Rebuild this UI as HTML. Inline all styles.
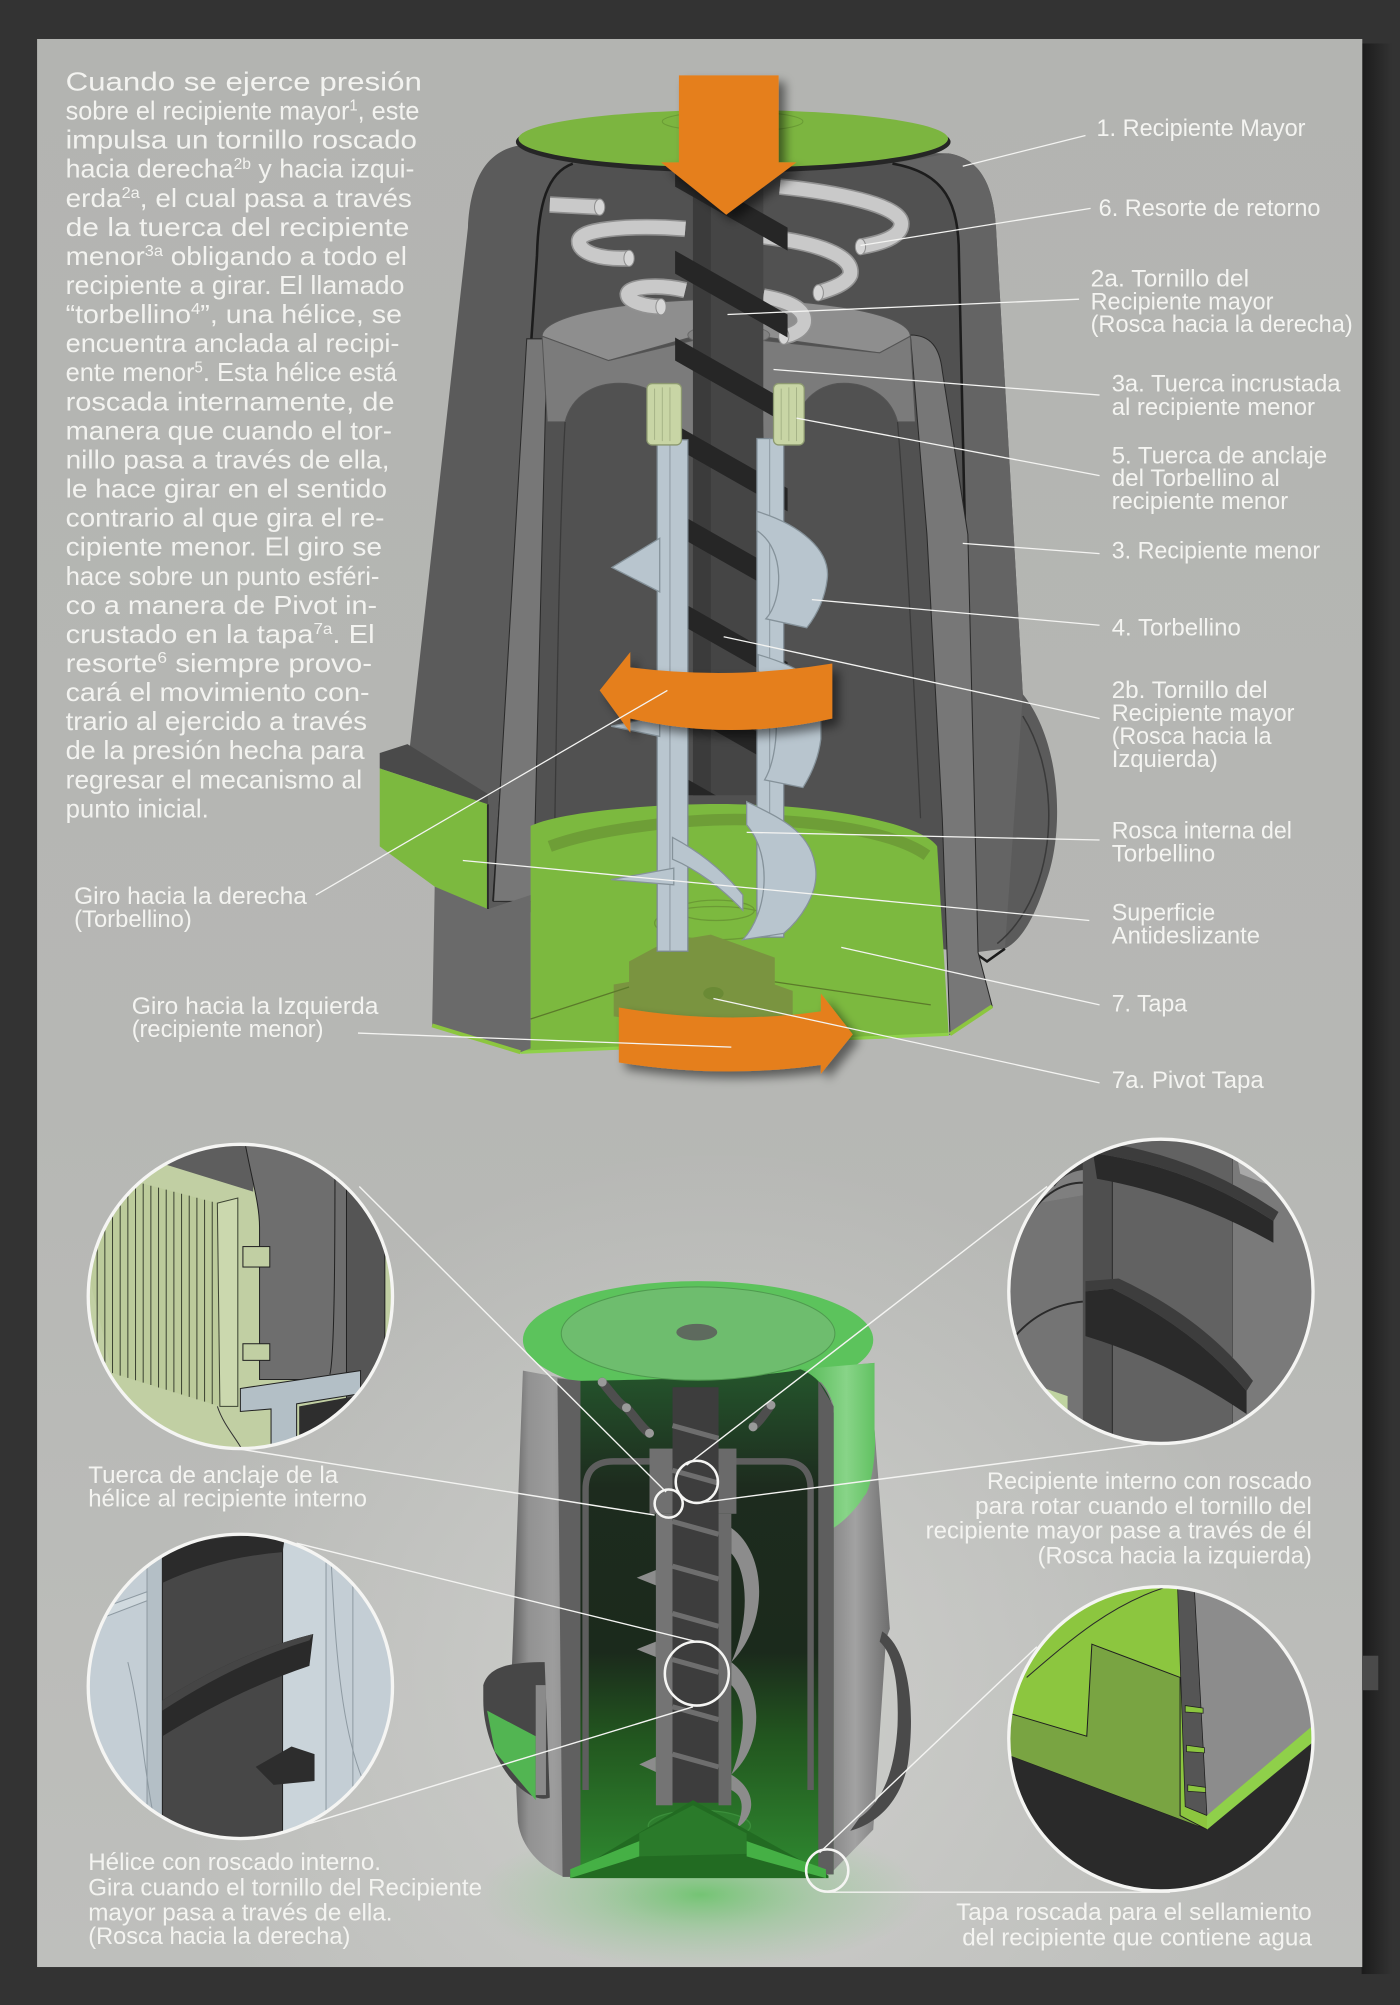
<!DOCTYPE html>
<html><head><meta charset="utf-8"><title>Torbellino</title>
<style>
html,body{margin:0;padding:0;background:#333;width:1400px;height:2005px;overflow:hidden}
svg{display:block}
.t{font-family:"Liberation Sans Narrow","Liberation Sans",sans-serif;font-size:20.5px;fill:#f3f3f0}
.l{font-family:"Liberation Sans Narrow","Liberation Sans",sans-serif;font-size:18.5px;fill:#f4f4f1}
.b{font-family:"Liberation Sans",sans-serif;font-size:19px;fill:#f4f4f1}
.ln{stroke:#f4f4f2;stroke-width:1;fill:none}
.ci{fill:none;stroke:#f5f5f3;stroke-width:2.6}
.cs{fill:none;stroke:#f5f5f3;stroke-width:2}
</style></head><body>
<svg xmlns="http://www.w3.org/2000/svg" width="1400" height="2005" viewBox="0 0 1095 1568.2" preserveAspectRatio="none">
<defs>
<linearGradient id="pg" x1="0" y1="0" x2="0" y2="1"><stop offset="0" stop-color="#b3b4b1"/><stop offset="0.55" stop-color="#b6b7b4"/><stop offset="1" stop-color="#bebfbc"/></linearGradient>
<radialGradient id="pr" cx="560" cy="1330" r="430" gradientUnits="userSpaceOnUse"><stop offset="0" stop-color="#d0d1ce" stop-opacity="0.9"/><stop offset="1" stop-color="#d0d1ce" stop-opacity="0"/></radialGradient>
<linearGradient id="rs" x1="0" y1="0" x2="1" y2="0"><stop offset="0" stop-color="#1b1b1b"/><stop offset="1" stop-color="#333"/></linearGradient>
<radialGradient id="glow" cx="0.5" cy="0.5" r="0.5"><stop offset="0" stop-color="#5fc35f" stop-opacity="0.8"/><stop offset="0.5" stop-color="#7fc77f" stop-opacity="0.4"/><stop offset="1" stop-color="#8fcf8f" stop-opacity="0"/></radialGradient>
<linearGradient id="gL" x1="400" y1="0" x2="454" y2="0" gradientUnits="userSpaceOnUse"><stop offset="0" stop-color="#5f5f5f"/><stop offset="0.25" stop-color="#929292"/><stop offset="0.6" stop-color="#9d9d9d"/><stop offset="1" stop-color="#858585"/></linearGradient>
<linearGradient id="gR" x1="640" y1="0" x2="698" y2="0" gradientUnits="userSpaceOnUse"><stop offset="0" stop-color="#7a7a7a"/><stop offset="0.5" stop-color="#a2a2a2"/><stop offset="1" stop-color="#6a6a6a"/></linearGradient>
<linearGradient id="gI" x1="0" y1="1078" x2="0" y2="1468" gradientUnits="userSpaceOnUse"><stop offset="0" stop-color="#24522b"/><stop offset="0.22" stop-color="#1d2b1e"/><stop offset="0.55" stop-color="#1b2a1c"/><stop offset="0.72" stop-color="#22561f"/><stop offset="1" stop-color="#2f8a30"/></linearGradient>
<linearGradient id="gG" x1="626" y1="0" x2="686" y2="0" gradientUnits="userSpaceOnUse"><stop offset="0" stop-color="#52b852"/><stop offset="0.6" stop-color="#88d488"/><stop offset="1" stop-color="#5fc05f"/></linearGradient>
<filter id="sh" x="-30%" y="-30%" width="170%" height="170%"><feGaussianBlur in="SourceAlpha" stdDeviation="4"/><feOffset dx="5" dy="5" result="o"/><feComponentTransfer in="o" result="s"><feFuncA type="linear" slope="0.5"/></feComponentTransfer><feMerge><feMergeNode in="s"/><feMergeNode in="SourceGraphic"/></feMerge></filter>
<clipPath id="scr"><rect x="528" y="125" width="90" height="497"/></clipPath>
<clipPath id="cA"><circle cx="188" cy="1014" r="118"/></clipPath>
<clipPath id="cB"><circle cx="188" cy="1319" r="118"/></clipPath>
<clipPath id="cC"><circle cx="908" cy="1010" r="118"/></clipPath>
<clipPath id="cD"><circle cx="908" cy="1360" r="118"/></clipPath>
</defs>

<!-- background -->
<rect x="0" y="0" width="1095" height="1569" fill="#333"/>
<rect x="1065" y="34" width="24" height="1510" fill="url(#rs)"/>
<rect x="1066" y="1295" width="12" height="27" fill="#4a4a4a"/>
<rect x="29" y="30.5" width="1036.5" height="1508" fill="url(#pg)"/>
<rect x="29" y="30.5" width="1036.5" height="1508" fill="url(#pr)"/>

<!-- ============ TOP DIAGRAM ============ -->
<path d="M405,114 C384,118 368,135 366,178 L319,598 L382,640 L382,711 L786,742 C800,735 810,715 818,690 C833,650 830,580 800,543 L779,178 C777,142 765,124 742,120 Z" fill="#5b5b5b"/>
<path d="M698,128 C740,135 750,160 750,200 L762,745 L786,742 L800,543 L779,178 C777,142 765,124 742,120 Z" fill="#646464"/>
<path d="M800,560 C825,600 826,660 808,700 C800,718 790,730 780,738" stroke="#3a3a3a" stroke-width="1.2" fill="none"/>
<path d="M448,128 L698,128 C740,135 750,160 750,200 L762,745 L386,705 L420,200 C421,160 428,135 448,128 Z" fill="#515151"/>
<path d="M448,128 C428,135 421,160 420,200 L386,705" stroke="#1c1c1c" stroke-width="2" fill="none"/>
<path d="M698,128 C740,135 750,160 750,200 L762,745 L772,752 L786,742" stroke="#1c1c1c" stroke-width="2" fill="none"/>
<path d="M412,265 L428,265 L417,705 L386,705 Z" fill="#777" stroke="#2a2a2a" stroke-width="0.8"/>
<path d="M712,262 C728,262 735,272 737,290 L757,418 L765,745 L776,787 L743,809 L737,640 L725,418 Z" fill="#777" stroke="#2a2a2a" stroke-width="0.8"/>
<path d="M424,263 C424,245 500,234 568,234 C640,234 712,245 712,263 L688,276 L594,263 L543,263 L476,282 Z" fill="#8e8e8e" stroke="#555" stroke-width="0.8"/>
<path d="M424,263 L476,282 L543,266 L543,345 L533,345 C530,318 515,303 490,300 C465,298 447,310 442,330 L428,330 Z" fill="#7b7b7b" stroke="#555" stroke-width="0.8"/>
<path d="M594,266 L688,276 L712,263 L716,330 L702,330 C697,310 678,298 655,300 C635,303 622,318 618,345 L597,345 Z" fill="#7b7b7b" stroke="#555" stroke-width="0.8"/>
<ellipse cx="570" cy="262" rx="32" ry="8" fill="#828282" stroke="#6a6a6a" stroke-width="0.8"/>
<path d="M442,330 C438,400 436,520 434,640" stroke="#3a3a3a" stroke-width="1" fill="none"/>
<path d="M702,330 C708,400 714,520 720,640" stroke="#3a3a3a" stroke-width="1" fill="none"/>
<g fill="none">
<path d="M430,160 L469,162" stroke="#929292" stroke-width="13"/>
<path d="M430,160 L469,162" stroke="#c9c9c9" stroke-width="10.5"/>
<path d="M610,146 C650,150 705,160 705,175 C705,185 690,190 673,193" stroke="#929292" stroke-width="13"/>
<path d="M610,146 C650,150 705,160 705,175 C705,185 690,190 673,193" stroke="#c9c9c9" stroke-width="10.5"/>
<path d="M536,179 C500,176 455,178 453,188 C452,198 470,203 492,202" stroke="#929292" stroke-width="13"/>
<path d="M536,179 C500,176 455,178 453,188 C452,198 470,203 492,202" stroke="#c9c9c9" stroke-width="10.5"/>
<path d="M597,185 C640,190 668,200 665,215 C662,222 650,226 640,229" stroke="#929292" stroke-width="13"/>
<path d="M597,185 C640,190 668,200 665,215 C662,222 650,226 640,229" stroke="#c9c9c9" stroke-width="10.5"/>
<path d="M536,227 C515,222 492,224 491,230 C491,236 505,240 517,240" stroke="#929292" stroke-width="13"/>
<path d="M536,227 C515,222 492,224 491,230 C491,236 505,240 517,240" stroke="#c9c9c9" stroke-width="10.5"/>
<path d="M597,232 C620,236 630,243 629,252 C628,258 620,262 613,263" stroke="#929292" stroke-width="13"/>
<path d="M597,232 C620,236 630,243 629,252 C628,258 620,262 613,263" stroke="#c9c9c9" stroke-width="10.5"/>
</g>
<g fill="#d6d6d6" stroke="#8f8f8f" stroke-width="0.8">
<ellipse cx="469" cy="162" rx="4" ry="6.3"/><ellipse cx="673" cy="193" rx="4" ry="6.3"/><ellipse cx="492" cy="202" rx="4" ry="6.3"/><ellipse cx="640" cy="229" rx="4" ry="6.3"/><ellipse cx="517" cy="240" rx="4" ry="6.3"/><ellipse cx="613" cy="263" rx="4" ry="6.3"/>
</g>
<path d="M415,646 C440,634 520,628 575,629 C650,630 722,645 733,662 L742,809 L408,822 L415,800 Z" fill="#7cb93f"/>
<path d="M430,662 C470,647 540,641 575,641 C640,641 700,651 725,669" stroke="#6e9e37" stroke-width="9" fill="none"/>
<ellipse cx="560" cy="722" rx="48" ry="13" fill="none" stroke="#6b9a35" stroke-width="1"/>
<ellipse cx="560" cy="712" rx="30" ry="8" fill="none" stroke="#6b9a35" stroke-width="1"/>
<path d="M492,752 L520,737 L556,731 L606,749 L606,770 L620,775 L620,795 L556,805 L480,795 L480,770 L492,768 Z" fill="#7a9440"/>
<path d="M415,797 L492,772 M606,768 L728,786" stroke="#5b7a2a" stroke-width="1" fill="none"/>
<ellipse cx="558" cy="777" rx="8" ry="5" fill="#6a8a35"/>
<path d="M407,823 L742,809" stroke="#8fd14a" stroke-width="2.5"/>
<rect x="542" y="125" width="55" height="497" fill="#454545"/>
<rect x="542" y="125" width="14" height="497" fill="#3b3b3b"/>
<g clip-path="url(#scr)" fill="#262626">
<path d="M528,128 L616,178 L616,196 L528,146 Z"/>
<path d="M528,196 L616,246 L616,264 L528,214 Z"/>
<path d="M528,264 L616,314 L616,332 L528,282 Z"/>
<path d="M528,332 L616,382 L616,400 L528,350 Z"/>
<path d="M528,400 L616,450 L616,468 L528,418 Z"/>
<path d="M528,468 L616,518 L616,536 L528,486 Z"/>
<path d="M528,536 L616,586 L616,604 L528,554 Z"/>
<path d="M528,604 L616,654 L616,672 L528,622 Z"/>
</g>
<g fill="#b9c6cf" stroke="#7d8a93" stroke-width="1">
<rect x="514" y="344" width="24" height="400"/>
<rect x="592" y="343" width="21" height="390"/>
</g>
<path d="M524,344 L524,744 M602,343 L602,733" stroke="#8e9aa2" stroke-width="0.8"/>
<g fill="#b8c5ce" stroke="#85929a" stroke-width="1">
<path d="M478.6,443.8 L516,421 L516,463 Z"/>
<path d="M592,400 C625,410 650,430 647,453 C645,470 638,482 631,491 L599,484 C612,470 615,430 592,415 Z"/>
<path d="M593,512 C620,520 642,530 642,550 L642,578 C640,595 633,608 628,616 L598,610 C610,590 612,540 593,525 Z"/>
<path d="M584,627 C610,640 635,650 638,680 C640,700 625,720 613,730 L581,735 C600,715 605,670 584,645 Z"/>
<path d="M478,688 L527,679 L527,692 Z"/>
<path d="M478,568 L516,560 L516,576 Z"/>
<path d="M526,655 C545,665 565,680 581,700 L581,712 C565,695 545,680 526,672 Z"/>
</g>
<g fill="#c8d5a5" stroke="#8c9970" stroke-width="1">
<rect x="506" y="300" width="27" height="48" rx="4"/>
<rect x="605" y="300" width="24" height="48" rx="4"/>
</g>
<path d="M512,304 L512,344 M518,303 L518,345 M524,303 L524,345 M611,304 L611,344 M617,303 L617,345 M623,303 L623,345" stroke="#a3b084" stroke-width="0.7"/>
<ellipse cx="573.5" cy="111" rx="170" ry="24" fill="#262626"/>
<ellipse cx="573.5" cy="108.5" rx="168" ry="22.5" fill="#7cb540"/>
<ellipse cx="573" cy="95" rx="55" ry="8" fill="none" stroke="#6a9c35" stroke-width="0.8"/>
<path d="M340,693 L382,711 L415,700 L415,820 L407,823 L338,802 Z" fill="#6a6a6a"/>
<path d="M338,802 L407,823" stroke="#8cc63f" stroke-width="3"/>
<path d="M743,809 L776,787" stroke="#8cc63f" stroke-width="3"/>
<path d="M297,589 L318.7,582 L381.6,621 L381.6,629 L297,601 Z" fill="#4a4a4a"/>
<path d="M297,601 L381.6,629 L381.6,711 L340,693.5 L297,662 Z" fill="#7cb93f"/>
<path d="M381.6,629 L381.6,711" stroke="#2a2a2a" stroke-width="1.5"/>
<g fill="#e57f1e" filter="url(#sh)">
<path d="M531,59 L609,59 L609,127 L623,127 L568,168 L517,127 L531,127 Z"/>
<path d="M651,519 Q572,532 493,522 L493,510 L469,540 L493,573 L493,562 Q572,580 651,562 Z"/>
<path d="M484,788 Q565,802 642,791 L642,777 L667,809 L642,840 L642,833 Q565,844 484,831 Z"/>
</g>
<g class="ln">
<path d="M849,106 L753,130"/>
<path d="M853,163 L673,192"/>
<path d="M844,234 L569,246"/>
<path d="M860,309 L605,289"/>
<path d="M860,372 L623,327"/>
<path d="M753,425 L860,433"/>
<path d="M635,469 L860,489"/>
<path d="M566,498 L860,562"/>
<path d="M584,651 L860,657"/>
<path d="M362,673 L852,720"/>
<path d="M658,741 L860,786"/>
<path d="M558,781 L860,847"/>
<path d="M522,540 L247,700"/>
<path d="M572,819 L280,808"/>
</g>

<g class="t">
<text x="51.3" y="70.8" textLength="278.7" lengthAdjust="spacingAndGlyphs">Cuando se ejerce presión</text>
<text x="51.3" y="93.54" textLength="276.75" lengthAdjust="spacingAndGlyphs">sobre el recipiente mayor<tspan dy="-7" font-size="12">1</tspan><tspan dy="7">, este</tspan></text>
<text x="51.3" y="116.28" textLength="274.8" lengthAdjust="spacingAndGlyphs">impulsa un tornillo roscado</text>
<text x="51.3" y="139.02" textLength="272.85" lengthAdjust="spacingAndGlyphs">hacia derecha<tspan dy="-7" font-size="12">2b</tspan><tspan dy="7"> y hacia izqui-</tspan></text>
<text x="51.3" y="161.76" textLength="270.9" lengthAdjust="spacingAndGlyphs">erda<tspan dy="-7" font-size="12">2a</tspan><tspan dy="7">, el cual pasa a través</tspan></text>
<text x="51.3" y="184.5" textLength="268.95" lengthAdjust="spacingAndGlyphs">de la tuerca del recipiente</text>
<text x="51.3" y="207.24" textLength="267" lengthAdjust="spacingAndGlyphs">menor<tspan dy="-7" font-size="12">3a</tspan><tspan dy="7"> obligando a todo el</tspan></text>
<text x="51.3" y="229.98" textLength="265.05" lengthAdjust="spacingAndGlyphs">recipiente a girar. El llamado</text>
<text x="51.3" y="252.72" textLength="263.1" lengthAdjust="spacingAndGlyphs">“torbellino<tspan dy="-7" font-size="12">4</tspan><tspan dy="7">”, una hélice, se</tspan></text>
<text x="51.3" y="275.46" textLength="261.15" lengthAdjust="spacingAndGlyphs">encuentra anclada al recipi-</text>
<text x="51.3" y="298.2" textLength="259.2" lengthAdjust="spacingAndGlyphs">ente menor<tspan dy="-7" font-size="12">5</tspan><tspan dy="7">. Esta hélice está</tspan></text>
<text x="51.3" y="320.94" textLength="257.25" lengthAdjust="spacingAndGlyphs">roscada internamente, de</text>
<text x="51.3" y="343.68" textLength="255.3" lengthAdjust="spacingAndGlyphs">manera que cuando el tor-</text>
<text x="51.3" y="366.42" textLength="253.35" lengthAdjust="spacingAndGlyphs">nillo pasa a través de ella,</text>
<text x="51.3" y="389.16" textLength="251.4" lengthAdjust="spacingAndGlyphs">le hace girar en el sentido</text>
<text x="51.3" y="411.9" textLength="249.45" lengthAdjust="spacingAndGlyphs">contrario al que gira el re-</text>
<text x="51.3" y="434.64" textLength="247.5" lengthAdjust="spacingAndGlyphs">cipiente menor. El giro se</text>
<text x="51.3" y="457.38" textLength="245.55" lengthAdjust="spacingAndGlyphs">hace sobre un punto esféri-</text>
<text x="51.3" y="480.12" textLength="243.6" lengthAdjust="spacingAndGlyphs">co a manera de Pivot in-</text>
<text x="51.3" y="502.86" textLength="241.65" lengthAdjust="spacingAndGlyphs">crustado en la tapa<tspan dy="-7" font-size="12">7a</tspan><tspan dy="7">. El</tspan></text>
<text x="51.3" y="525.6" textLength="239.7" lengthAdjust="spacingAndGlyphs">resorte<tspan dy="-7" font-size="12">6</tspan><tspan dy="7"> siempre provo-</tspan></text>
<text x="51.3" y="548.34" textLength="237.75" lengthAdjust="spacingAndGlyphs">cará el movimiento con-</text>
<text x="51.3" y="571.08" textLength="235.8" lengthAdjust="spacingAndGlyphs">trario al ejercido a través</text>
<text x="51.3" y="593.82" textLength="233.85" lengthAdjust="spacingAndGlyphs">de la presión hecha para</text>
<text x="51.3" y="616.56" textLength="231.9" lengthAdjust="spacingAndGlyphs">regresar el mecanismo al</text>
<text x="51.3" y="639.3" textLength="112" lengthAdjust="spacingAndGlyphs">punto inicial.</text>
</g>

<g class="l">
<text x="857.6" y="106.4" textLength="163.5" lengthAdjust="spacingAndGlyphs">1. Recipiente Mayor</text>
<text x="859.3" y="169" textLength="173.5" lengthAdjust="spacingAndGlyphs">6. Resorte de retorno</text>
<text x="853" y="224.2" textLength="124" lengthAdjust="spacingAndGlyphs">2a. Tornillo del</text>
<text x="853" y="242" textLength="143" lengthAdjust="spacingAndGlyphs">Recipiente mayor</text>
<text x="853" y="259.6" textLength="205" lengthAdjust="spacingAndGlyphs">(Rosca hacia la derecha)</text>
<text x="869.5" y="306.4" textLength="179" lengthAdjust="spacingAndGlyphs">3a. Tuerca incrustada</text>
<text x="869.5" y="324.6" textLength="159" lengthAdjust="spacingAndGlyphs">al recipiente menor</text>
<text x="869.5" y="362.4" textLength="168.5" lengthAdjust="spacingAndGlyphs">5. Tuerca de anclaje</text>
<text x="869.5" y="380.2" textLength="131.5" lengthAdjust="spacingAndGlyphs">del Torbellino al</text>
<text x="869.5" y="398" textLength="138" lengthAdjust="spacingAndGlyphs">recipiente menor</text>
<text x="869.5" y="437" textLength="163" lengthAdjust="spacingAndGlyphs">3. Recipiente menor</text>
<text x="869.5" y="497" textLength="101" lengthAdjust="spacingAndGlyphs">4. Torbellino</text>
<text x="869.5" y="546" textLength="122" lengthAdjust="spacingAndGlyphs">2b. Tornillo del</text>
<text x="869.5" y="564" textLength="143" lengthAdjust="spacingAndGlyphs">Recipiente mayor</text>
<text x="869.5" y="582" textLength="125" lengthAdjust="spacingAndGlyphs">(Rosca hacia la</text>
<text x="869.5" y="600" textLength="83" lengthAdjust="spacingAndGlyphs">Izquierda)</text>
<text x="869.5" y="656" textLength="141" lengthAdjust="spacingAndGlyphs">Rosca interna del</text>
<text x="869.5" y="674" textLength="81" lengthAdjust="spacingAndGlyphs">Torbellino</text>
<text x="869.5" y="720" textLength="81" lengthAdjust="spacingAndGlyphs">Superficie</text>
<text x="869.5" y="738" textLength="116" lengthAdjust="spacingAndGlyphs">Antideslizante</text>
<text x="869.5" y="791" textLength="59" lengthAdjust="spacingAndGlyphs">7. Tapa</text>
<text x="869.5" y="851" textLength="119" lengthAdjust="spacingAndGlyphs">7a. Pivot Tapa</text>
<text x="58" y="707" textLength="182" lengthAdjust="spacingAndGlyphs">Giro hacia la derecha</text>
<text x="58" y="725" textLength="92" lengthAdjust="spacingAndGlyphs">(Torbellino)</text>
<text x="103" y="793" textLength="193" lengthAdjust="spacingAndGlyphs">Giro hacia la Izquierda</text>
<text x="103" y="811" textLength="150" lengthAdjust="spacingAndGlyphs">(recipiente menor)</text>
</g>

<!-- ============ BOTTOM RENDER ============ -->
<ellipse cx="548" cy="1482" rx="175" ry="58" fill="url(#glow)"/>
<path d="M409,1072 L453,1080 L447,1468 L441,1468 C422,1460 408,1445 405,1425 L400,1314 Z" fill="url(#gL)"/>
<path d="M626,1071 L684,1066 L684,1118 L696,1274 L693,1282 L683,1431 L649,1466 L640,1466 L640,1084 Z" fill="url(#gR)"/>
<path d="M690,1276 C712,1290 716,1340 710,1380 C705,1405 690,1425 665,1432 L672,1422 C690,1410 700,1385 702,1350 C703,1320 700,1295 688,1284 Z" fill="#4a4a4a"/>
<ellipse cx="546" cy="1048" rx="137" ry="46" fill="#5cc35c"/>
<path d="M626,1071 L684,1066 L684,1118 C686,1140 680,1168 676,1170 C670,1180 660,1190 652,1195 L652,1100 C648,1085 640,1076 626,1071 Z" fill="url(#gG)"/>
<path d="M453,1080 C500,1079 600,1078 626,1071 C640,1076 650,1090 652,1105 L652,1466 L447,1468 Z" fill="url(#gI)"/>
<path d="M436,1078 L454,1080 L454,1468 L440,1468 Z" fill="#606060"/>
<path d="M640,1080 L652,1100 L652,1466 L640,1466 Z" fill="#5e5e5e"/>
<path d="M458,1400 L458,1165 Q458,1143 480,1143 L612,1143 Q634,1143 634,1165 L634,1400" fill="none" stroke="#5e5e5e" stroke-width="5"/>
<g stroke="#4e4e4e" stroke-width="7" fill="none" stroke-linecap="round">
<path d="M471,1081 C480,1092 485,1099 490,1101"/>
<path d="M490,1101 C498,1110 503,1118 508,1121"/>
<path d="M603,1099 C598,1106 594,1112 589,1116"/>
</g>
<g fill="#9a9a9a"><circle cx="471" cy="1081" r="3.5"/><circle cx="490" cy="1101" r="3.5"/><circle cx="508" cy="1121" r="3.5"/><circle cx="603" cy="1099" r="3.5"/><circle cx="589" cy="1116" r="3.5"/></g>
<!-- floor -->
<ellipse cx="547" cy="1428" rx="40" ry="12" fill="#2e7e2e" stroke="#3b8f3b" stroke-width="1"/>
<rect x="526" y="1085" width="36" height="325" fill="#3d3d3d"/>
<g stroke="#6e6e6e" stroke-width="4">
<path d="M526,1115 L562,1125 M526,1150 L562,1160 M526,1190 L562,1200 M526,1225 L562,1235 M526,1262 L562,1272 M526,1298 L562,1308 M526,1335 L562,1345 M526,1372 L562,1382"/>
</g>
<rect x="508" y="1133" width="18" height="51" fill="#707070"/>
<rect x="562" y="1133" width="14" height="51" fill="#6a6a6a"/>
<rect x="513" y="1184" width="13" height="228" fill="#747474"/>
<rect x="562" y="1184" width="10" height="228" fill="#6a6a6a"/>
<g fill="#8c8c8c">
<path d="M572,1195 C600,1215 602,1270 572,1300 C586,1270 586,1230 572,1215 Z"/>
<path d="M572,1300 C598,1320 598,1365 572,1388 C584,1360 584,1330 572,1318 Z"/>
<path d="M572,1388 C592,1400 592,1420 576,1430 C582,1415 582,1405 572,1400 Z"/>
<path d="M498,1234 L513,1228 L513,1240 Z"/>
<path d="M498,1290 L513,1284 L513,1296 Z"/>
<path d="M500,1380 L513,1374 L513,1386 Z"/>
</g>
<path d="M446,1466 L542,1408 L648,1467 L648,1469 L446,1469 Z" fill="#226b22"/>
<path d="M500,1434 L542,1412 L584,1434 L584,1450 L500,1452 Z" fill="#2a7a2a"/>
<path d="M446,1462 L500,1440 L500,1452 L446,1469 Z" fill="#45b045"/>
<path d="M584,1440 L646,1462 L646,1469 L584,1452 Z" fill="#45b045"/>
<ellipse cx="546" cy="1043" rx="107" ry="36.5" fill="#6ebd6e" stroke="#4f9a4f" stroke-width="0.8"/>
<ellipse cx="545" cy="1042" rx="16" ry="6.5" fill="#5e6a5e"/>
<path d="M378,1318 C382,1305 395,1300 426,1300 L430,1406 C420,1410 405,1400 395,1385 C385,1370 378,1350 378,1330 Z" fill="#474747"/>
<path d="M381,1338 L419,1358 L419,1408 L387,1370 Z" fill="#52b552"/>
<rect x="419" y="1318" width="8" height="86" fill="#8a8a8a"/>

<!-- ============ CIRCLES ============ -->
<g clip-path="url(#cA)">
<rect x="68" y="894" width="240" height="240" fill="#c1cfa3"/>
<polygon points="100,880 200,880 198,932 130,911 100,925" fill="#5e5e5e"/>
<polygon points="109,925 170,941 172,1100 88,1074 70,1000 76,916" fill="#bccb9b"/>
<path d="M76,916.4 L76,1070.3 M82,918 L82,1072.1 M88,919.5 L88,1074 M94,921.1 L94,1075.9 M100,922.6 L100,1077.7 M106,924.2 L106,1079.6 M112,925.8 L112,1081.4 M118,927.4 L118,1083.3 M124,928.9 L124,1085.2 M130,930.5 L130,1087 M136,932.1 L136,1088.9 M142,933.7 L142,1090.7 M148,935.2 L148,1092.6 M154,936.8 L154,1094.5 M160,938.4 L160,1096.3 M166,939.9 L166,1098.2" stroke="#3d4433" stroke-width="0.8"/>
<polygon points="170,941 186,937 186,1100 172,1100" fill="#cbd8ae" stroke="#3d4433" stroke-width="0.8"/>
<path d="M190,885 C196,920 203,940 203,960 L203,1079 L282,1079 L282,885 Z" fill="#6e6e6e" stroke="#222" stroke-width="0.8"/>
<rect x="271" y="885" width="30" height="210" fill="#555" stroke="#222" stroke-width="0.8"/>
<rect x="190" y="975" width="21" height="16" fill="#c1cfa3" stroke="#222" stroke-width="0.8"/>
<rect x="190" y="1051" width="21" height="13" fill="#c1cfa3" stroke="#222" stroke-width="0.8"/>
<path d="M262,905 C262,960 262,1060 258,1075" stroke="#222" stroke-width="0.8" fill="none"/>
<polygon points="188,1086 282,1072 282,1090 232,1098 232,1140 212,1140 212,1102 188,1104" fill="#b3bfc6" stroke="#222" stroke-width="0.8"/>
<polygon points="234,1100 300,1088 300,1140 234,1140" fill="#2e2e2e"/>
<path d="M170,1100 C175,1115 185,1125 190,1135" stroke="#333" stroke-width="0.8" fill="none"/>
</g>
<circle class="ci" cx="188" cy="1014" r="119"/>
<g clip-path="url(#cB)">
<rect x="68" y="1199" width="240" height="240" fill="#c4ced5"/>
<rect x="115" y="1199" width="12" height="240" fill="#b4bfc6"/>
<rect x="221" y="1199" width="34" height="240" fill="#cad4da"/>
<path d="M115,1199 L115,1440 M255,1199 L255,1440 M276,1199 L276,1440" stroke="#8e9aa2" stroke-width="0.8"/>
<polygon points="68,1262 115,1245 115,1252 68,1270" fill="#d0d9de" stroke="#8e9aa2" stroke-width="0.8"/>
<path d="M258,1200 C262,1280 265,1380 300,1420 M100,1300 C110,1340 112,1380 120,1420" stroke="#8e9aa2" stroke-width="0.8" fill="none"/>
<rect x="127" y="1199" width="94" height="240" fill="#474747" stroke="#222" stroke-width="0.8"/>
<path d="M127,1205 Q170,1196 224,1195 L221,1214 Q170,1218 127,1238 Z" fill="#2b2b2b"/>
<path d="M127,1205 Q170,1196 224,1195 L221,1200 Q170,1201 127,1211 Z" fill="#404040"/>
<path d="M127,1330 Q185,1293 245,1278 L242,1303 Q185,1322 127,1358 Z" fill="#2a2a2a"/>
<path d="M127,1330 Q185,1293 245,1278 L242,1283 Q185,1300 127,1338 Z" fill="#454545"/>
<polygon points="200,1382 228,1366 246,1372 246,1393 214,1396" fill="#2d2d2d"/>
</g>
<circle class="ci" cx="188" cy="1319" r="119"/>
<g clip-path="url(#cC)">
<rect x="789" y="891" width="240" height="240" fill="#6d6d6d"/>
<polygon points="789,891 847,891 847,935 789,945" fill="#7f7f7f"/>
<polygon points="789,945 847,935 847,1131 789,1131" fill="#747474"/>
<path d="M800,960 C815,930 835,925 847,925 M790,1050 C805,1030 825,1020 847,1018" stroke="#2a2a2a" stroke-width="1.5" fill="none"/>
<path d="M820,925 C830,905 845,900 850,900 L850,915 C840,915 830,920 825,928 Z" fill="#3a3a3a"/>
<rect x="847" y="891" width="117" height="240" fill="#626262"/>
<rect x="847" y="891" width="23" height="240" fill="#4f4f4f"/>
<path d="M870,891 L870,1131 M964,891 L964,1131" stroke="#2a2a2a" stroke-width="0.8"/>
<rect x="964" y="891" width="65" height="240" fill="#7a7a7a"/>
<polygon points="966,895 1029,895 1029,935 1000,930 970,918" fill="#a8a8a8"/>
<path d="M855,902 Q930,912 996,955 L996,972 Q930,935 858,922 Z" fill="#2a2a2a"/>
<path d="M855,902 Q930,912 996,955 L1000,948 Q935,903 858,893 Z" fill="#3c3c3c"/>
<path d="M849,1010 L870,1008 Q935,1040 975,1088 L975,1106 Q915,1065 849,1045 Z" fill="#2a2a2a"/>
<path d="M849,1010 L870,1008 Q935,1040 975,1088 L980,1080 Q940,1030 875,1000 L849,1002 Z" fill="#3d3d3d"/>
<polygon points="800,1080 835,1092 835,1110 805,1105" fill="#bfd3a0"/>
<path d="M1029,1060 C1010,1070 998,1090 996,1110" stroke="#2a2a2a" stroke-width="1" fill="none"/>
</g>
<circle class="ci" cx="908" cy="1010" r="119"/>
<g clip-path="url(#cD)">
<rect x="789" y="1241" width="240" height="240" fill="#8cc63f"/>
<polygon points="786,1339 850,1358 854,1286 923,1312 923,1420 944,1431 786,1372" fill="#79a442" stroke="#1f1f1f" stroke-width="0.8"/>
<polygon points="786,1372 944,1431 1030,1358 1030,1482 786,1482" fill="#2a2a2a"/>
<polygon points="933,1240 1030,1240 1030,1347 944,1420 933,1413" fill="#8c8c8c"/>
<polygon points="921,1240 934,1240 944,1420 927,1413" fill="#555" stroke="#1f1f1f" stroke-width="0.6"/>
<polygon points="944,1420 1030,1347 1030,1360 944,1431" fill="#8fd04a"/>
<g fill="#8cc63f" stroke="#222" stroke-width="0.6">
<polygon points="927,1334 941,1336 941,1340 927,1339"/>
<polygon points="928,1365 942,1367 942,1371 928,1370"/>
<polygon points="929,1396 943,1398 943,1402 929,1401"/>
</g>
<path d="M803,1312 C840,1280 870,1255 910,1242" stroke="#2a2a2a" stroke-width="0.8" fill="none"/>
</g>
<circle class="ci" cx="908" cy="1360" r="119"/>

<circle class="cs" cx="545" cy="1159" r="16.5"/>
<circle class="cs" cx="523" cy="1176" r="11"/>
<circle class="cs" cx="545" cy="1309" r="25"/>
<circle class="cs" cx="647" cy="1463" r="16.5"/>

<g class="ln" style="stroke-width:1.1">
<path d="M281,928 L521,1167"/>
<path d="M819,928 L537,1146"/>
<path d="M185,1133 L512,1185"/>
<path d="M902,1129 L550,1175"/>
<path d="M232,1207 L545,1284"/>
<path d="M230,1430 L542,1335"/>
<path d="M811,1288 L641,1449"/>
<path d="M647,1480 L915,1480"/>
</g>

<g class="b">
<text x="69" y="1160" textLength="195.5" lengthAdjust="spacingAndGlyphs">Tuerca de anclaje de la</text>
<text x="69" y="1178.5" textLength="218" lengthAdjust="spacingAndGlyphs">hélice al recipiente interno</text>
<text x="772" y="1164.5" textLength="254" lengthAdjust="spacingAndGlyphs">Recipiente interno con roscado</text>
<text x="762.6" y="1184" textLength="263.4" lengthAdjust="spacingAndGlyphs">para rotar cuando el tornillo del</text>
<text x="724" y="1203.5" textLength="302" lengthAdjust="spacingAndGlyphs">recipiente mayor pase a través de él</text>
<text x="811.6" y="1223" textLength="214.4" lengthAdjust="spacingAndGlyphs">(Rosca hacia la izquierda)</text>
<text x="69" y="1462.7" textLength="229" lengthAdjust="spacingAndGlyphs">Hélice con roscado interno.</text>
<text x="69" y="1482.6" textLength="308" lengthAdjust="spacingAndGlyphs">Gira cuando el tornillo del Recipiente</text>
<text x="69" y="1502" textLength="238" lengthAdjust="spacingAndGlyphs">mayor pasa a través de ella.</text>
<text x="69" y="1520.6" textLength="205" lengthAdjust="spacingAndGlyphs">(Rosca hacia la derecha)</text>
<text x="747.8" y="1501.8" textLength="278.2" lengthAdjust="spacingAndGlyphs">Tapa roscada para el sellamiento</text>
<text x="752.6" y="1521.6" textLength="273.4" lengthAdjust="spacingAndGlyphs">del recipiente que contiene agua</text>
</g>
</svg>
</body></html>
